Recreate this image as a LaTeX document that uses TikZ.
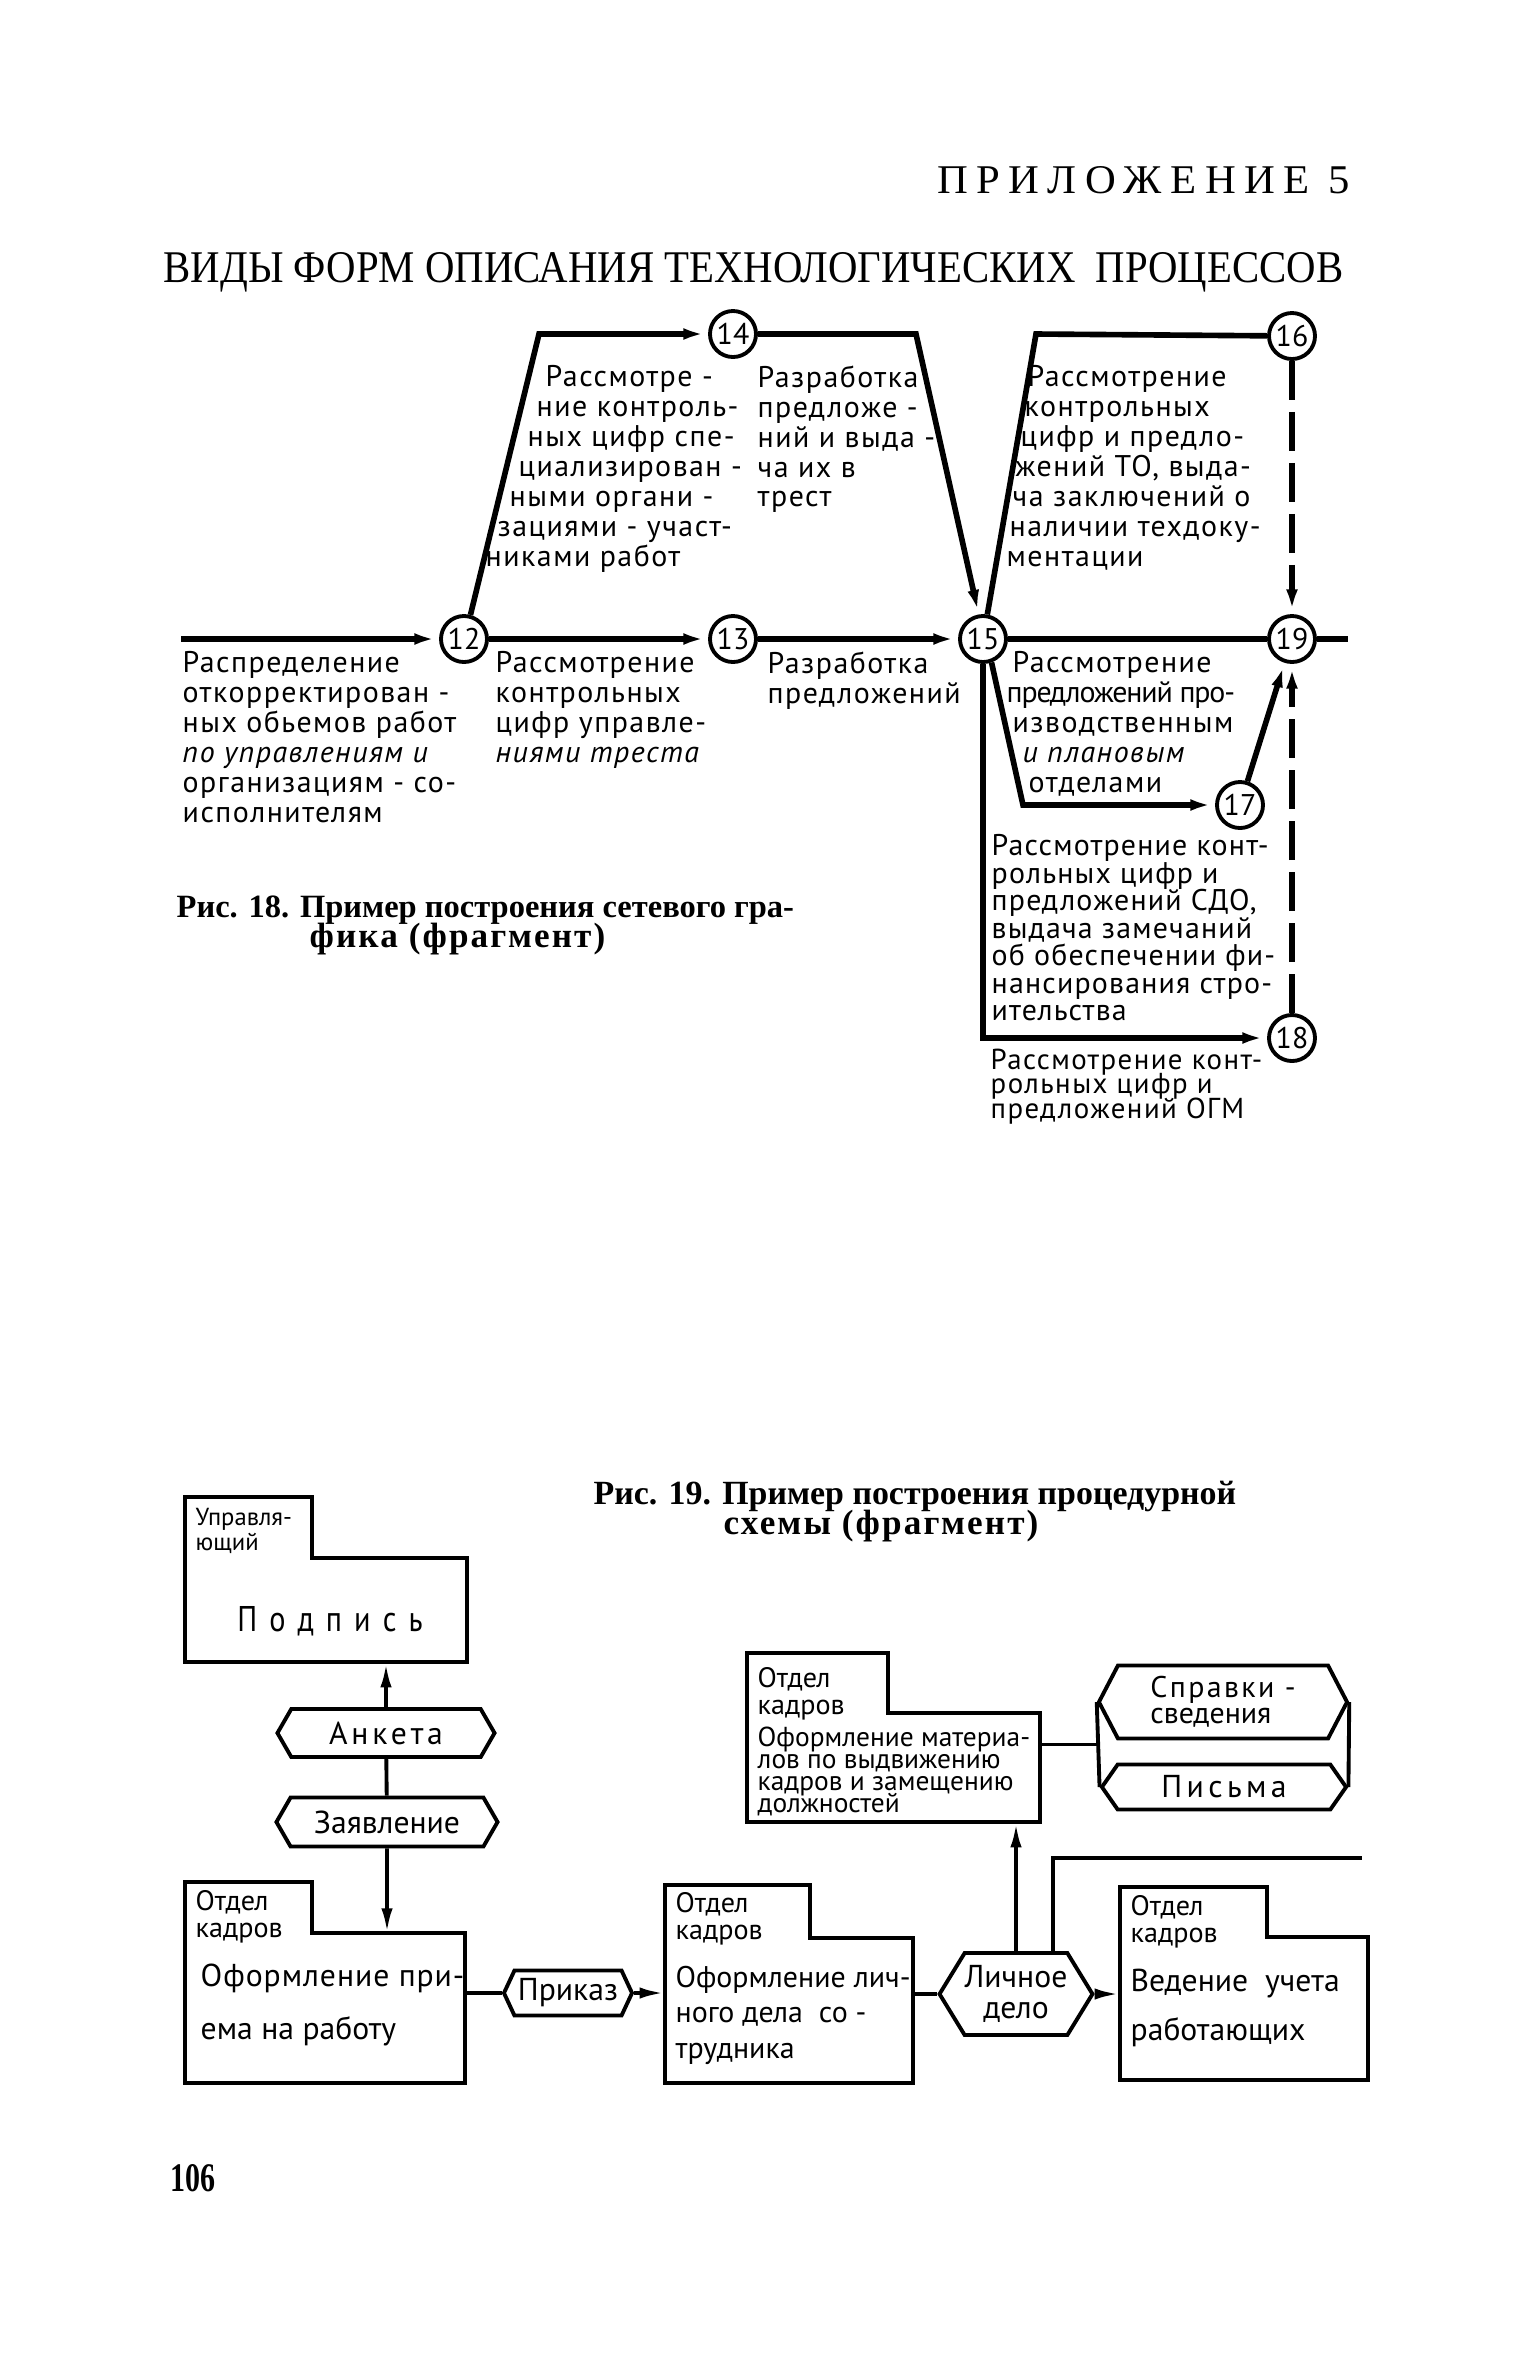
\documentclass[tikz,border=0pt]{standalone}
\usepackage{fontspec}
\setmainfont{Liberation Serif}
\newfontfamily\gost{PT Sans}
\usetikzlibrary{arrows.meta, positioning, calc, fit, shapes.symbols}

\newcommand\tightlines{\lineskiplimit -10pt\relax}

% folder-like box: name, left, top, tab right, step, right, bottom
\newcommand\folder[7]{%
  \draw[box] (#2,#3) -- (#4,#3) -- (#4,#5) -- (#6,#5) -- (#6,#7) -- (#2,#7) -- cycle;
  \coordinate (#1-nw) at (#2,#3);
  \coordinate (#1-st) at (#6,#5);
  \coordinate (#1-se) at (#6,#7);
  \node[fit=(#1-nw)(#1-se), inner sep=0pt] (#1) {};
}

\begin{document}
\begin{tikzpicture}[x=0.01cm, y=-0.01cm,
  event/.style={draw, circle, line width=1.1pt, minimum size=0.46cm, inner sep=0pt, fill=white, font=\gost\fontsize{8.5}{8.5}\selectfont},
  job/.style={line width=1.6pt},
  fict/.style={line width=1.6pt, dash pattern=on 11pt off 3.5pt},
  arr/.style={-{Latex[length=7pt,width=3.2pt]}},
  lbl/.style={anchor=north west, inner sep=0pt, align=left, font=\gost\fontsize{8.5}{8.5}\selectfont\addfontfeature{LetterSpace=5}\tightlines},
  box/.style={line width=1.1pt},
  doc/.style={draw, shape=signal, signal to=east and west, signal pointer angle=120, line width=1.1pt, inner sep=0pt, font=\gost\fontsize{9}{9}\selectfont},
  head/.style={anchor=north west, inner sep=0pt, align=left, font=\gost\fontsize{8}{7.7}\selectfont},
  body/.style={anchor=north west, inner sep=0pt, align=left, font=\gost\fontsize{9}{15}\selectfont},
  capt/.style={anchor=base west, inner sep=0pt, font=\bfseries\fontsize{10}{10}\selectfont}
]
\useasboundingbox (0,0) rectangle (1536,2362);

% page heading
\node[anchor=base east, inner sep=0pt] (app) at (1351,193)
  {\resizebox{4.13cm}{0.27cm}{\addfontfeature{LetterSpace=20}ПРИЛОЖЕНИЕ 5}};
\node[anchor=base west, inner sep=0pt] (title) at (163,282)
  {\resizebox{11.79cm}{0.30cm}{ВИДЫ ФОРМ ОПИСАНИЯ ТЕХНОЛОГИЧЕСКИХ\ \ ПРОЦЕССОВ}};

% network graph
\node[event] (n12) at (464,639) {12};
\node[event] (n13) at (733,639) {13};
\node[event] (n14) at (733,334) {14};
\node[event] (n15) at (983,639) {15};
\node[event] (n16) at (1292,336) {16};
\node[event] (n17) at (1240,805) {17};
\node[event] (n18) at (1292,1038) {18};
\node[event] (n19) at (1292,639) {19};
\coordinate (in) at (181,639);
\coordinate (out) at (1348,639);
\coordinate (c1) at (539,334);
\coordinate (c2) at (916,334);
\coordinate (c3) at (1036,334);
\coordinate (c4) at (1023,805);

\draw[job, arr] (in) -- (n12);
\draw[job, arr] (n12) -- (n13);
\draw[job, arr] (n13) -- (n15);
\draw[job] (n15) -- (n19);
\draw[job] (n19) -- (out);
\draw[job, arr] (n12.75) -- (c1) -- (n14);
\draw[job, arr] (n14) -- (c2) -- (n15.100);
\draw[job] (n15.80) -- (c3) -- (n16);
\draw[fict, arr] (n16) -- (n19);
\draw[job, arr] (n15.-70) -- (c4) -- (n17);
\draw[job, arr] (n17) -- (n19);
\draw[job, arr] (n15) |- (n18);
\draw[fict, arr] (n18) -- (n19);

\node[lbl] (t1214) at (485,365) {\hspace*{0.60cm}Рассмотре -\\\hspace*{0.51cm}ние контроль-\\\hspace*{0.42cm}ных цифр спе-\\\hspace*{0.33cm}циализирован -\\\hspace*{0.24cm}ными органи -\\\hspace*{0.12cm}зациями - участ-\\никами работ};
\node[lbl] (t1415) at (757,365) {Разработка\\предложе -\\ний и выда -\\ча их в\\трест};
\node[lbl] (t0012) at (182,651) {Распределение\\откорректирован -\\ных обьемов работ\\{\itshape по управлениям и}\\организациям - со-\\исполнителям};
\node[lbl] (t1213) at (495,651) {Рассмотрение\\контрольных\\цифр управле-\\{\itshape ниями треста}};
\node[lbl] (t1315) at (767,651) {Разработка\\предложений};
\node[lbl] (t1517) at (1006,651) {\hspace*{0.06cm}Рассмотрение\\{\addfontfeature{LetterSpace=-4}предложений про-}\\\hspace*{0.06cm}изводственным\\\hspace*{0.16cm}{\itshape и плановым}\\\hspace*{0.22cm}отделами};
\node[lbl] (t1516) at (1006,365) {\hspace*{0.21cm}Рассмотрение\\\hspace*{0.18cm}контрольных\\\hspace*{0.14cm}цифр и предло-\\\hspace*{0.09cm}жений ТО, выда-\\\hspace*{0.06cm}ча заключений о\\\hspace*{0.03cm}наличии техдоку-\\ментации};
\node[lbl, font=\gost\fontsize{8.5}{7.8}\selectfont\addfontfeature{LetterSpace=4}\tightlines] (t1518) at (991,834) {Рассмотрение конт-\\рольных цифр и\\предложений СДО,\\выдача замечаний\\об обеспечении фи-\\нансирования стро-\\ительства};
\node[lbl, font=\gost\fontsize{8.2}{7}\selectfont\addfontfeature{LetterSpace=5}\tightlines] (t1518b) at (990,1048) {Рассмотрение конт-\\рольных цифр и\\предложений ОГМ};

\node[capt] (cap18a) at (176,917)
  {\resizebox{6.17cm}{!}{Рис. 18. Пример построения сетевого гра-}};
\node[capt] (cap18b) at (309,947)
  {\addfontfeature{LetterSpace=6}фика (фрагмент)};

% procedure scheme
\node[capt] (cap19a) at (593,1504)
  {\resizebox{6.42cm}{!}{Рис. 19. Пример построения процедурной}};
\node[capt] (cap19b) at (723,1534)
  {\addfontfeature{LetterSpace=6}схемы (фрагмент)};

\folder{b0}{185}{1497}{312}{1558}{467}{1662}
\folder{b1}{185}{1882}{312}{1933}{465}{2083}
\folder{b2}{665}{1885}{810}{1938}{913}{2083}
\folder{b3}{747}{1653}{888}{1713}{1040}{1822}
\folder{b4}{1120}{1887}{1267}{1937}{1368}{2080}

\node[head, font=\gost\fontsize{7}{7}\selectfont] at (195,1508) {Управля-\\ющий};
\node[inner sep=0pt] (sign) at (330,1621) {\resizebox{1.85cm}{0.25cm}{\gost\addfontfeature{LetterSpace=40}Подпись}};
\node[head] at (195,1890) {Отдел\\кадров};
\node[body] at (200,1963) {\addfontfeature{LetterSpace=3}Оформление при-\\ема на работу};
\node[head] at (675,1892) {Отдел\\кадров};
\node[body, font=\gost\fontsize{8.5}{10.2}\selectfont] at (675,1965) {Оформление лич-\\ного дела\ \ со -\\трудника};
\node[head] at (757,1667) {Отдел\\кадров};
\node[body, font=\gost\fontsize{7.8}{6.3}\selectfont\tightlines] at (757,1726) {Оформление материа-\\лов по выдвижению\\кадров и замещению\\должностей};
\node[head] at (1130,1895) {Отдел\\кадров};
\node[body, font=\gost\fontsize{9}{13.9}\selectfont] at (1130,1968) {Ведение\ \ учета\\работающих};

\node[doc, minimum width=2.17cm, minimum height=0.48cm] (ank) at (386,1733) {\addfontfeature{LetterSpace=12}Анкета};
\node[doc, minimum width=2.21cm, minimum height=0.49cm] (zv) at (387,1822) {Заявление};
\node[doc, minimum width=1.28cm, minimum height=0.45cm, signal pointer angle=130] (pr) at (568,1993) {Приказ};
\node[doc, minimum width=1.47cm, minimum height=0.82cm, align=center, signal pointer angle=117] (ld) at (1016,1994) {Личное\\дело};
\node[doc, minimum width=2.48cm, minimum height=0.73cm, align=left, signal pointer angle=125, font=\gost\fontsize{8.5}{7.5}\selectfont] (sp) at (1223,1702) {\addfontfeature{LetterSpace=8}Справки -\\сведения};
\node[doc, minimum width=2.44cm, minimum height=0.45cm, signal pointer angle=110] (pi) at (1224,1787) {\addfontfeature{LetterSpace=14}Письма};
\draw[box] (sp.west) -- (pi.west) (sp.east) -- (pi.east);

\draw[box, arr] (ank) -- (ank |- b0.south);
\draw[box] (ank) -- (zv);
\draw[box, arr] (zv) -- (zv |- b1-st);
\draw[box] (b1.east |- pr.west) -- (pr.west);
\draw[box, arr] (pr.east) -- (pr.east -| b2.west);
\draw[box] (b2.east |- ld.west) -- (ld.west);
\draw[box, arr] (ld.east) -- (ld.east -| b4.west);
\draw[box, arr] (ld.north) -- (ld.north |- b3.south);
\coordinate (tail) at (1362,1858);
\draw[box] ([xshift=0.37cm]ld.north) |- (tail);
\coordinate (sj) at ($(sp.west)!0.5!(pi.west)$);
\draw[box] (b3.east |- sj) -- (sj);

\node[anchor=base west, inner sep=0pt] (page) at (170,2191) {\resizebox{0.45cm}{0.27cm}{\bfseries 106}};
\end{tikzpicture}
\end{document}
